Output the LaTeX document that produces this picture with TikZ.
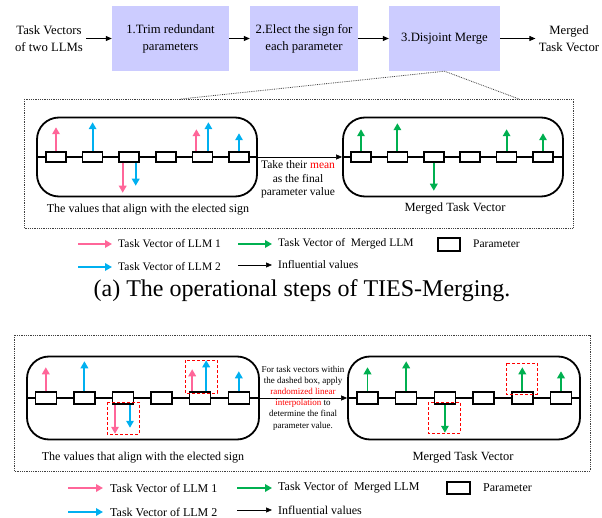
\documentclass[tikz,border=0pt]{standalone}
\usepackage{fontspec}
\setmainfont{Liberation Serif}
\usetikzlibrary{arrows.meta,positioning}

\definecolor{stepfill}{RGB}{204,204,255}
\definecolor{llmpink}{RGB}{255,102,153}
\definecolor{llmblue}{RGB}{0,176,240}
\definecolor{llmgreen}{RGB}{0,176,80}

\tikzset{
	stepbox/.style={fill=stepfill, minimum height=65pt, align=center, inner sep=0pt, font=\fontsize{12.7}{17}\selectfont},
	endtext/.style={align=center, font=\fontsize{12.7}{17}\selectfont},
	flow/.style={-{Triangle[length=6pt,width=5pt]}, line width=0.8pt},
	group/.style={draw, line width=1.8pt, rounded corners=22pt},
	chain/.style={line width=1.5pt},
	param/.style={draw, fill=white, line width=1.5pt, minimum width=20pt, minimum height=10pt, inner sep=0pt},
	vec/.style={-{Triangle[length=7pt,width=7.5pt]}, line width=1.9pt},
	pinkvec/.style={vec, llmpink},
	bluevec/.style={vec, llmblue},
	greenvec/.style={vec, llmgreen},
	zoomline/.style={densely dotted, line width=0.8pt, black!75},
	redbox/.style={draw=red, densely dashed, line width=1pt},
	note/.style={align=center, font=\fontsize{11.5}{13.5}\selectfont},
	legend/.style={anchor=west, inner sep=0pt, font=\fontsize{11.5}{13}\selectfont},
	keyline/.style={-{Triangle[length=6pt,width=5pt]}, line width=0.6pt},
}

\begin{document}
\begin{tikzpicture}[x=1pt, y=-1pt]
	\useasboundingbox (0,0) rectangle (602,518);
	
	%%%%% pipeline %%%%%
	\node[endtext] (src) at (49,38.5) {Task Vectors\\of two LLMs};
	\node[stepbox, minimum width=117pt] (s1) at (170.5,38.5) {1.Trim redundant\\parameters};
	\node[stepbox, minimum width=108pt] (s2) at (304,38.5) {2.Elect the sign for\\each parameter};
	\node[stepbox, minimum width=111pt] (s3) at (444.5,38.5) {3.Disjoint Merge};
	\node[endtext] (dst) at (569,38.5) {Merged\\Task Vector};
	
	\draw[flow] (src) -- (s1);
	\draw[flow] (s1) -- (s2);
	\draw[flow] (s2) -- (s3);
	\draw[flow] (s3) -- (dst);
	
	%%%%% (a) TIES-Merging %%%%%
	\draw[zoomline] (24,99) rectangle (573,228);
	\draw[zoomline] (181,99) -- (s3.south) -- (519,99);
	
	\node[group, minimum width=220pt, minimum height=79pt] (gTL) at (147,157) {};
	\node[group, minimum width=220pt, minimum height=79pt] (gTR) at (453,157) {};
	\draw[chain] (gTL.west) -- (gTL.east);
	\draw[chain] (gTR.west) -- (gTR.east);
	\draw[flow, line width=0.6pt] (gTL.east) -- (gTR.west);
	
	\foreach \i in {1,...,6}{
		\node[param] (tl\i) at ({19.4+36.6*\i},157) {};
		\node[param] (tr\i) at ({324.6+36.4*\i},157) {};
	}
	
	% values of the two LLMs
	\draw[pinkvec] (tl1.north) -- ++(0,-24);
	\draw[bluevec] (tl2.north) -- ++(0,-29);
	\draw[pinkvec] ([xshift=-6.5pt]tl3.south) -- ++(0,30);
	\draw[bluevec] ([xshift=6.5pt]tl3.south) -- ++(0,23);
	\draw[pinkvec] ([xshift=-6pt]tl5.north) -- ++(0,-22);
	\draw[bluevec] ([xshift=6pt]tl5.north) -- ++(0,-29);
	\draw[bluevec] (tl6.north) -- ++(0,-18);
	
	% merged values
	\draw[greenvec] (tr1.north) -- ++(0,-22);
	\draw[greenvec] (tr2.north) -- ++(0,-28);
	\draw[greenvec] (tr3.south) -- ++(0,28);
	\draw[greenvec] (tr5.north) -- ++(0,-22);
	\draw[greenvec] (tr6.north) -- ++(0,-18);
	
	\node[note] (meanTxt) at (298,179.5) {Take their {\color{red}mean}\\as the final\\parameter value};
	\node[note, font=\fontsize{12}{14}\selectfont] (capTL) at (148,210) {The values that align with the elected sign};
	\node[note, font=\fontsize{12.5}{14}\selectfont] (capTR) at (455,209) {Merged Task Vector};
	
	% legend
	\node[legend] (lgA) at (118,244) {Task Vector of LLM 1};
	\node[legend] (lgB) at (278,244) {Task Vector of\ \ Merged LLM};
	\node[param, minimum width=22pt, minimum height=13pt] (lgP) at (449,244.5) {};
	\node[legend] (lgPt) at (473,244) {Parameter};
	\node[legend] (lgC) at (118,267) {Task Vector of LLM 2};
	\node[legend] (lgD) at (278,265) {Influential values};
	\draw[pinkvec, line width=2.3pt] ([xshift=-40pt]lgA.west) -- ([xshift=-6pt]lgA.west);
	\draw[greenvec, line width=2.3pt] ([xshift=-40pt]lgB.west) -- ([xshift=-6pt]lgB.west);
	\draw[bluevec, line width=2.3pt] ([xshift=-40pt]lgC.west) -- ([xshift=-6pt]lgC.west);
	\draw[keyline] ([xshift=-40pt]lgD.west) -- ([xshift=-6pt]lgD.west);
	
	\node[font=\fontsize{24}{26}\selectfont] (capA) at (302,291) {(a) The operational steps of TIES-Merging.};
	
	%%%%% randomized interpolation %%%%%
	\draw[zoomline] (14,335) rectangle (590,471);
	
	\node[group, minimum width=232pt, minimum height=83pt] (gBL) at (143,398) {};
	\node[group, minimum width=232pt, minimum height=83pt] (gBR) at (464,398) {};
	\draw[chain] (gBL.west) -- (gBL.east);
	\draw[chain] (gBR.west) -- (gBR.east);
	\draw[flow, line width=0.6pt] (gBL.east) -- (gBR.west);
	
	\foreach \i in {1,...,6}{
		\node[param, minimum width=21pt, minimum height=12pt] (bl\i) at ({7.2+38.6*\i},398) {};
		\node[param, minimum width=21pt, minimum height=12pt] (br\i) at ({328.8+38.7*\i},398) {};
	}
	
	\draw[pinkvec] (bl1.north) -- ++(0,-24);
	\draw[bluevec] (bl2.north) -- ++(0,-30);
	\draw[pinkvec] ([xshift=-8pt]bl3.south) -- ++(0,29);
	\draw[bluevec] ([xshift=7pt]bl3.south) -- ++(0,23);
	\draw[pinkvec] ([xshift=-8pt]bl5.north) -- ++(0,-22);
	\draw[bluevec] ([xshift=6pt]bl5.north) -- ++(0,-31);
	\draw[bluevec] (bl6.north) -- ++(0,-20);
	
	\draw[greenvec] (br1.north) -- ++(0,-24);
	\draw[greenvec] (br2.north) -- ++(0,-30);
	\draw[greenvec] (br3.south) -- ++(0,28);
	\draw[greenvec] (br5.north) -- ++(0,-24);
	\draw[greenvec] (br6.north) -- ++(0,-20);
	
	% boxes picked for interpolation
	\draw[redbox] (107,402) rectangle (139,434);
	\draw[redbox] (185,360) rectangle (217,393);
	\draw[redbox] (428,402) rectangle (460,433);
	\draw[redbox] (506,363) rectangle (537,394);
	
	\node[note, font=\fontsize{9}{11.2}\selectfont] (interpTxt) at (303,398) {For task vectors within\\the dashed box, apply\\{\color{red}randomized linear}\\{\color{red}interpolation} to\\determine the final\\parameter value.};
	\node[note, font=\fontsize{12}{14}\selectfont] (capBL) at (143,458) {The values that align with the elected sign};
	\node[note, font=\fontsize{12.5}{14}\selectfont] (capBR) at (463,458) {Merged Task Vector};
	
	\node[legend, font=\fontsize{12}{14}\selectfont] (lbA) at (110,488) {Task Vector of LLM 1};
	\node[legend, font=\fontsize{12}{14}\selectfont] (lbB) at (278,488) {Task Vector of\ \ Merged LLM};
	\node[param, minimum width=23pt, minimum height=12pt] (lbP) at (458.5,488) {};
	\node[legend, font=\fontsize{12}{14}\selectfont] (lbPt) at (483,488) {Parameter};
	\node[legend, font=\fontsize{12}{14}\selectfont] (lbC) at (110,512) {Task Vector of LLM 2};
	\node[legend, font=\fontsize{12}{14}\selectfont] (lbD) at (278,510) {Influential values};
	\draw[pinkvec, line width=2.3pt] ([xshift=-42pt]lbA.west) -- ([xshift=-7pt]lbA.west);
	\draw[greenvec, line width=2.3pt] ([xshift=-41pt]lbB.west) -- ([xshift=-6pt]lbB.west);
	\draw[bluevec, line width=2.3pt] ([xshift=-42pt]lbC.west) -- ([xshift=-7pt]lbC.west);
	\draw[keyline] ([xshift=-41pt]lbD.west) -- ([xshift=-6pt]lbD.west);
	
\end{tikzpicture}
\end{document}
